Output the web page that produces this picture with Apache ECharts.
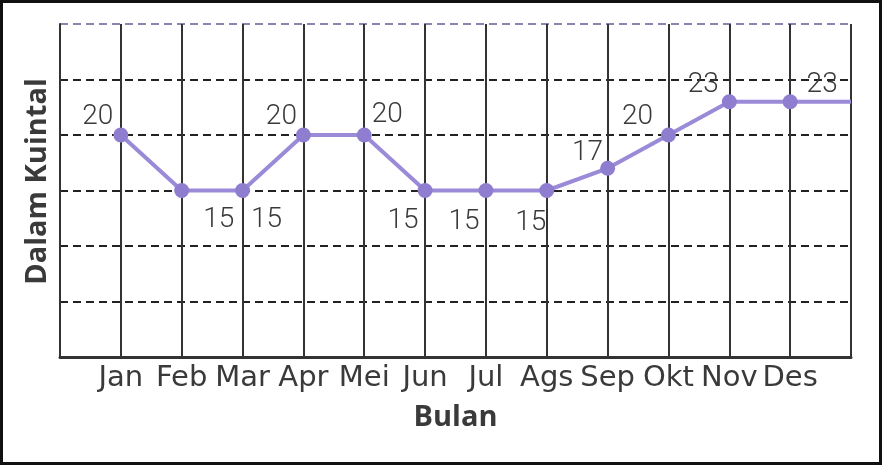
<!DOCTYPE html>
<html>
<head>
<meta charset="utf-8">
<script src="https://cdn.jsdelivr.net/npm/echarts@6/dist/echarts.min.js"></script>
<style>
html,body{margin:0;padding:0;background:#fff;}
#chart{width:882px;height:465px;}
</style>
</head>
<body>
<div id="chart"></div>
<script>
// ---- data ----
const months = ['Jan','Feb','Mar','Apr','Mei','Jun','Jul','Ags','Sep','Okt','Nov','Des'];
const values = [20, 15, 15, 20, 20, 15, 15, 15, 17, 20, 23, 23];
const yMin = 0, yMax = 30, yStep = 5;

// ---- label placement (style only) ----
const labelOffsets = [
  [-23,-18],[37,29],[24,29],[-22,-18],[23,-20],[-22,30],
  [-22,31],[-16,32],[-20,-15],[-31,-18],[-26,-17],[32,-17]
];

const lineColor = '#9a8ad8';
const dotColor = '#8f7ed0';

const seriesData = values.map((v, i) => ({
  value: [i + 1, v],
  label: { offset: labelOffsets[i] }
}));
const tailData = [[months.length, values[values.length - 1]], [months.length + 1, values[values.length - 1]]];

const chart = echarts.init(document.getElementById('chart'));
chart.setOption({
  animation: false,
  backgroundColor: '#fff',
  grid: { left: 60, right: 31, top: 24, bottom: 108 },
  xAxis: {
    type: 'value',
    min: 0, max: months.length + 1, interval: 1,
    name: 'Bulan',
    nameLocation: 'middle',
    nameGap: 46,
    nameTextStyle: { fontFamily: 'Open Sans', fontWeight: 'bold', fontSize: 29, color: '#3a3a3a' },
    axisLine: { show: true, lineStyle: { color: '#333', width: 3 } },
    axisTick: { show: false },
    axisLabel: {
      margin: 7,
      fontFamily: 'DejaVu Sans',
      fontSize: 29,
      color: '#3a3a3a',
      formatter: v => months[v - 1] || ''
    },
    splitLine: { show: true, lineStyle: { color: '#333', width: 2, type: 'solid' } }
  },
  yAxis: {
    type: 'value',
    min: yMin, max: yMax, interval: yStep,
    name: 'Dalam Kuintal',
    nameLocation: 'middle',
    nameGap: 8,
    nameTextStyle: { fontFamily: 'Open Sans', fontWeight: 'bold', fontSize: 29, color: '#3a3a3a', padding: [0, 0, 0, 18] },
    axisLine: { show: true, lineStyle: { color: '#333', width: 2 } },
    axisTick: { show: false },
    axisLabel: { show: false },
    splitLine: {
      show: true,
      lineStyle: {
        color: ['#222','#222','#222','#222','#222','#222','#8a85b0'],
        width: 2,
        type: [8, 5]
      }
    }
  },
  series: [
    {
      type: 'line',
      data: tailData,
      symbol: 'none',
      lineStyle: { color: lineColor, width: 4 },
      z: 3
    },
    {
      type: 'line',
      data: seriesData,
      symbol: 'circle',
      symbolSize: 15,
      itemStyle: { color: dotColor },
      lineStyle: { color: lineColor, width: 4 },
      label: {
        show: true,
        position: 'inside',
        align: 'center',
        verticalAlign: 'middle',
        fontFamily: 'Roboto',
        fontWeight: 300,
        fontSize: 28,
        color: '#3a3a3a',
        formatter: p => p.value[1]
      },
      z: 4
    }
  ],
  graphic: [
    {
      type: 'rect',
      shape: { x: 1.5, y: 1.5, width: 879, height: 462 },
      style: { fill: 'none', stroke: '#111', lineWidth: 3 },
      z: 100
    }
  ]
});
</script>
</body>
</html>
